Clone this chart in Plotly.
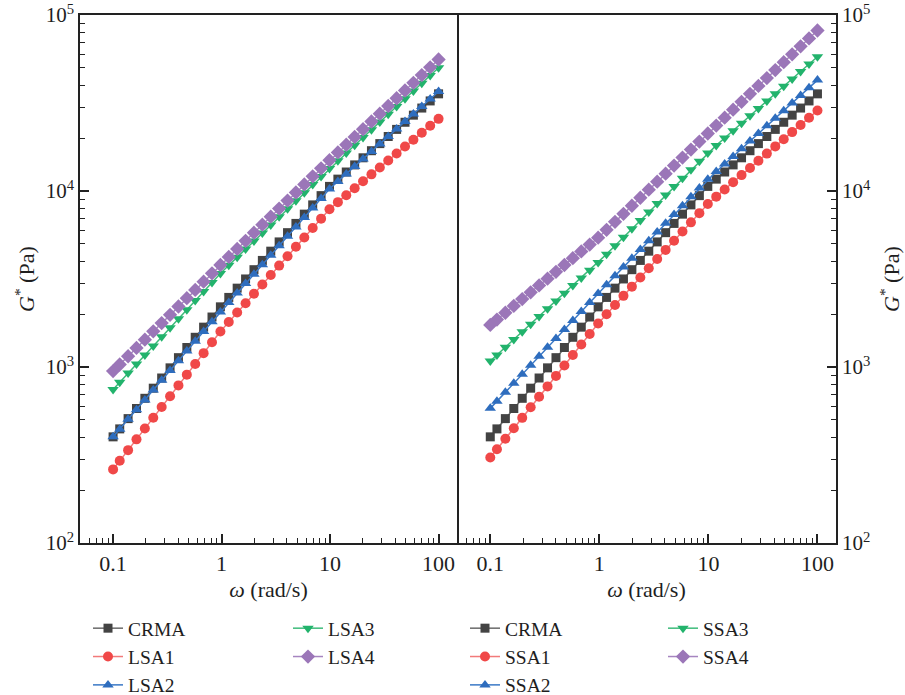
import plotly.graph_objects as go

# angular frequency (rad/s)
omega = [0.1, 0.1151, 0.1375, 0.1643, 0.1963, 0.2346, 0.2803, 0.3350, 0.4003, 0.4783,
         0.5715, 0.6829, 0.8160, 0.9752, 1.165, 1.392, 1.664, 1.988, 2.376, 2.839,
         3.392, 4.053, 4.843, 5.787, 6.916, 8.264, 9.874, 11.80, 14.10, 16.85,
         20.13, 24.06, 28.74, 34.35, 41.04, 49.05, 58.61, 70.03, 83.69, 100]

# complex modulus G* (Pa)
crma = [401, 445, 509, 581, 664, 758, 866, 989, 1130, 1291,
        1475, 1684, 1923, 2197, 2485, 2805, 3164, 3572, 4032, 4551,
        5137, 5798, 6544, 7387, 8338, 9412, 10620, 11680, 12820, 14070,
        15440, 16940, 18590, 20400, 22390, 24580, 26970, 29600, 32490, 35650]
lsa1 = [262, 293, 337, 388, 447, 515, 592, 682, 786, 905,
        1041, 1199, 1381, 1590, 1802, 2038, 2305, 2606, 2946, 3332,
        3767, 4260, 4817, 5446, 6159, 6965, 7875, 8643, 9465, 10360,
        11350, 12430, 13610, 14910, 16320, 17880, 19570, 21440, 23470, 25700]
lsa2 = [401, 443, 504, 572, 650, 739, 840, 954, 1084, 1231,
        1399, 1590, 1806, 2052, 2323, 2630, 2977, 3369, 3813, 4314,
        4884, 5525, 6254, 7077, 8010, 9068, 10260, 11340, 12510, 13790,
        15210, 16770, 18500, 20400, 22500, 24820, 27360, 30190, 33300, 36730]
lsa3 = [746, 820, 923, 1039, 1170, 1317, 1484, 1670, 1881, 2117,
        2384, 2684, 3021, 3402, 3787, 4208, 4676, 5196, 5774, 6416,
        7130, 7923, 8802, 9781, 10870, 12080, 13420, 14860, 16440, 18190,
        20130, 22280, 24650, 27280, 30190, 33420, 36980, 40920, 45290, 50120]
lsa4 = [948, 1033, 1151, 1284, 1430, 1594, 1777, 1980, 2207, 2460,
        2742, 3055, 3406, 3797, 4220, 4689, 5211, 5790, 6433, 7149,
        7945, 8827, 9808, 10900, 12110, 13460, 14950, 16560, 18320, 20270,
        22430, 24820, 27470, 30400, 33640, 37240, 41200, 45590, 50460, 55850]
ssa1 = [306, 341, 391, 449, 514, 590, 677, 776, 890, 1020,
        1170, 1342, 1539, 1765, 1994, 2249, 2537, 2861, 3227, 3638,
        4104, 4627, 5216, 5885, 6636, 7483, 8439, 9287, 10200, 11210,
        12310, 13520, 14850, 16310, 17920, 19680, 21610, 23740, 26080, 28640]
ssa2 = [582, 639, 718, 808, 909, 1022, 1150, 1293, 1454, 1635,
        1839, 2069, 2327, 2617, 2937, 3295, 3695, 4145, 4650, 5214,
        5851, 6561, 7360, 8256, 9263, 10390, 11650, 12890, 14240, 15730,
        17390, 19210, 21220, 23450, 25910, 28620, 31620, 34940, 38610, 42660]
ssa3 = [1081, 1171, 1295, 1432, 1584, 1752, 1938, 2144, 2371, 2623,
        2901, 3209, 3548, 3925, 4377, 4889, 5459, 6095, 6808, 7601,
        8490, 9480, 10590, 11830, 13200, 14750, 16460, 18160, 20000, 22030,
        24270, 26730, 29440, 32430, 35730, 39360, 43350, 47750, 52600, 57940]
ssa4 = [1734, 1860, 2034, 2224, 2431, 2658, 2906, 3177, 3474, 3798,
        4153, 4539, 4964, 5427, 6015, 6681, 7419, 8243, 9156, 10170,
        11300, 12550, 13940, 15480, 17200, 19100, 21220, 23540, 26110, 28960,
        32130, 35640, 39530, 43840, 48630, 53950, 59820, 66360, 73620, 81660]

x_ticks = [0.1, 1, 10, 100]
x_labels = ["0.1", "1", "10", "100"]
y_ticks = [100, 1000, 10000, 100000]
y_labels = ["10<sup>2</sup>", "10<sup>3</sup>", "10<sup>4</sup>", "10<sup>5</sup>"]

left_names = ["CRMA", "LSA1", "LSA2", "LSA3", "LSA4"]
left_data = [crma, lsa1, lsa2, lsa3, lsa4]
right_names = ["CRMA", "SSA1", "SSA2", "SSA3", "SSA4"]
right_data = [crma, ssa1, ssa2, ssa3, ssa4]

marker_colors = ["#434343", "#F04848", "#2E6DBE", "#22B36C", "#9B76B8"]
line_colors = ["#6a6a6a", "#F27A7A", "#3A78C6", "#3DBB7A", "#A685C0"]
symbols = ["square", "circle", "triangle-up", "triangle-down", "diamond"]
sizes = [9, 10, 10, 10, 11]

# minor tick positions (2..9 of each decade)
x_minor = [m * 10.0 ** e for e in range(-2, 3) for m in range(2, 10)]
y_minor = [m * 10.0 ** e for e in range(2, 5) for m in range(2, 10)]

SERIF = "Liberation Serif"
TXT = "#1e1e1e"
fig = go.Figure()

legends_left = ["legend", "legend", "legend", "legend2", "legend2"]
legends_right = ["legend3", "legend3", "legend3", "legend4", "legend4"]

for i, (n, d) in enumerate(zip(left_names, left_data)):
    fig.add_trace(go.Scatter(
        x=omega, y=d, name=n, mode="lines+markers", xaxis="x", yaxis="y",
        legend=legends_left[i],
        line=dict(color=line_colors[i], width=1.5),
        marker=dict(symbol=symbols[i], size=sizes[i], color=marker_colors[i], line=dict(width=0)),
    ))
for i, (n, d) in enumerate(zip(right_names, right_data)):
    fig.add_trace(go.Scatter(
        x=omega, y=d, name=n, mode="lines+markers", xaxis="x2", yaxis="y2",
        legend=legends_right[i],
        line=dict(color=line_colors[i], width=1.5),
        marker=dict(symbol=symbols[i], size=sizes[i], color=marker_colors[i], line=dict(width=0)),
    ))


def axis_style(tv, tt, minor_vals, fsize, mirror=True):
    return dict(
        type="log", showline=True, linecolor="#222", linewidth=1.5, mirror=mirror,
        ticks="inside", ticklen=9, tickwidth=1.5, tickcolor="#222",
        tickmode="array", tickvals=tv, ticktext=tt, ticklabeloverflow="allow",
        minor=dict(ticks="inside", ticklen=5, tickwidth=1.2, tickcolor="#222",
                   tickmode="array", tickvals=minor_vals, showgrid=False),
        showgrid=False, zeroline=False, automargin=False,
        tickfont=dict(family=SERIF, size=fsize, color=TXT),
        title_font=dict(family=SERIF, size=22, color=TXT),
    )


xr = [-1.305, 2.17]
fig.update_layout(
    width=905, height=695,
    margin=dict(l=80, r=69, t=15, b=152, autoexpand=False),
    plot_bgcolor="white", paper_bgcolor="white",
    font=dict(family=SERIF, size=20, color=TXT),
    xaxis=dict(domain=[0, 0.4987], range=xr, anchor="y",
               title=dict(text="<i>ω</i> (rad/s)", standoff=6), **axis_style(x_ticks, x_labels, x_minor, 22)),
    xaxis2=dict(domain=[0.4987, 1], range=xr, anchor="y2",
                title=dict(text="<i>ω</i> (rad/s)", standoff=6), **axis_style(x_ticks, x_labels, x_minor, 22)),
    yaxis=dict(range=[2, 5], anchor="x", **axis_style(y_ticks, y_labels, y_minor, 21)),
    yaxis2=dict(range=[2, 5], anchor="x2", side="right",
                **axis_style(y_ticks, y_labels, y_minor, 21, mirror=False)),
)

ytitle = "<i>G</i><sup>*</sup> (Pa)"
fig.add_annotation(text=ytitle, xref="paper", yref="paper", x=-55 / 756, y=0.5,
                   textangle=-90, showarrow=False, xanchor="center", yanchor="middle",
                   font=dict(family=SERIF, size=22, color=TXT))
fig.add_annotation(text=ytitle, xref="paper", yref="paper", x=1 + 54 / 756, y=0.5,
                   textangle=-90, showarrow=False, xanchor="center", yanchor="middle",
                   font=dict(family=SERIF, size=22, color=TXT))

leg_common = dict(xref="container", yref="container", yanchor="top", xanchor="left",
                  bgcolor="rgba(0,0,0,0)", font=dict(family=SERIF, size=19.5, color=TXT),
                  tracegroupgap=0, itemclick=False)
ytop = 1 - 609 / 695
fig.update_layout(
    legend=dict(x=88 / 905, y=ytop, **leg_common),
    legend2=dict(x=288 / 905, y=ytop, **leg_common),
    legend3=dict(x=465 / 905, y=ytop, **leg_common),
    legend4=dict(x=663 / 905, y=ytop, **leg_common),
)

fig.write_html("out.html", config={"displayModeBar": False},
               post_script="document.body.style.margin='0px';")
